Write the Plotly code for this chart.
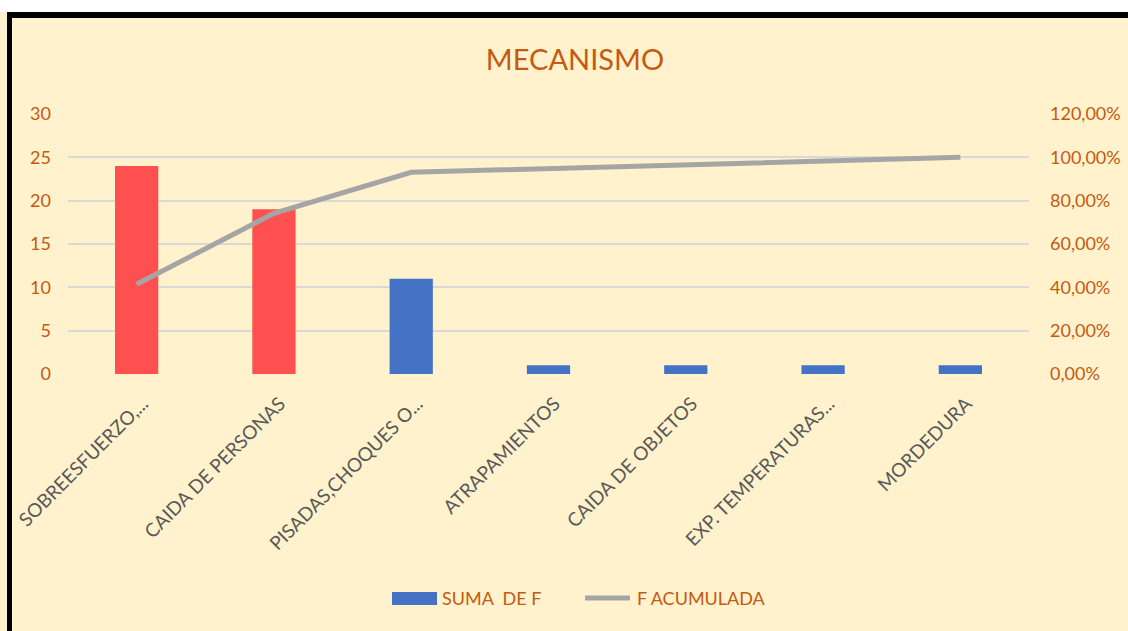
import plotly.graph_objects as go

# ── Data ─────────────────────────────────────────────
categorias = [
    "SOBREESFUERZO,...",
    "CAIDA DE PERSONAS",
    "PISADAS,CHOQUES O...",
    "ATRAPAMIENTOS",
    "CAIDA DE OBJETOS",
    "EXP. TEMPERATURAS...",
    "MORDEDURA",
]
suma_f = [24, 19, 11, 1, 1, 1, 1]
f_acumulada = [0.4138, 0.7414, 0.9310, 0.9483, 0.9655, 0.9828, 1.0]
n_destacadas = 2  # first bars drawn in red

y_ticks = [0, 5, 10, 15, 20, 25, 30]
y2_ticks = [0, 0.2, 0.4, 0.6, 0.8, 1.0, 1.2]
y2_labels = ["0,00%", "20,00%", "40,00%", "60,00%", "80,00%", "100,00%", "120,00%"]

# ── Colors ───────────────────────────────────────────
BG = "#FFF2CC"
ORANGE = "#C55A11"
RED = "#FF5050"
BLUE = "#4472C4"
GRAY = "#A5A5A5"
GRID = "#D9D9D9"
LABEL = "#595959"
FONT = "Lato"

W, H = 1128, 631


def px_x(v):
    return v / W


def px_y(v):
    return 1 - v / H


fig = go.Figure()

# red highlighted bars
fig.add_trace(go.Bar(
    x=categorias[:n_destacadas], y=suma_f[:n_destacadas],
    marker_color=RED, marker_line_width=0, width=0.315,
    showlegend=False,
))
# remaining bars
fig.add_trace(go.Bar(
    x=categorias[n_destacadas:], y=suma_f[n_destacadas:],
    marker_color=BLUE, marker_line_width=0, width=0.315,
    showlegend=False,
))
# cumulative line
fig.add_trace(go.Scatter(
    x=categorias, y=f_acumulada, yaxis="y2",
    mode="lines", line=dict(color=GRAY, width=5),
    showlegend=False,
))

# ── Frame: white strip on top, black border top/left ──
shapes = [
    dict(type="rect", xref="paper", yref="paper", x0=0, x1=1, y0=px_y(12), y1=1,
         fillcolor="white", line_width=0, layer="below"),
    dict(type="rect", xref="paper", yref="paper", x0=px_x(7), x1=1, y0=px_y(18), y1=px_y(12),
         fillcolor="black", line_width=0, layer="below"),
    dict(type="rect", xref="paper", yref="paper", x0=px_x(7), x1=px_x(12), y0=0, y1=px_y(12),
         fillcolor="black", line_width=0, layer="below"),
    # legend swatches (Excel style)
    dict(type="rect", xref="paper", yref="paper", x0=px_x(392), x1=px_x(437),
         y0=px_y(605), y1=px_y(592), fillcolor=BLUE, line_width=0),
    dict(type="line", xref="paper", yref="paper", x0=px_x(585), x1=px_x(630),
         y0=px_y(598), y1=px_y(598), line=dict(color=GRAY, width=5)),
]

annotations = [
    dict(text="SUMA  DE F", xref="paper", yref="paper", x=px_x(440), y=px_y(598),
         xanchor="left", yanchor="middle", showarrow=False,
         font=dict(family=FONT, color=ORANGE, size=18)),
    dict(text="F ACUMULADA", xref="paper", yref="paper", x=px_x(635), y=px_y(598),
         xanchor="left", yanchor="middle", showarrow=False,
         font=dict(family=FONT, color=ORANGE, size=18)),
]

fig.update_layout(
    width=W, height=H,
    margin=dict(l=0, r=0, t=0, b=0, autoexpand=False),
    paper_bgcolor=BG,
    plot_bgcolor=BG,
    barmode="overlay",
    showlegend=False,
    shapes=shapes,
    annotations=annotations,
    font=dict(family=FONT, color=ORANGE, size=18),
    title=dict(
        text="MECANISMO",
        font=dict(family=FONT, color=ORANGE, size=29),
        x=575 / W, xanchor="center",
        y=px_y(60), yanchor="middle",
    ),
    xaxis=dict(
        domain=[px_x(68), px_x(1029)],
        automargin=False,
        tickangle=-45,
        tickfont=dict(color=LABEL, size=19, family=FONT),
        showgrid=False, zeroline=False, showline=False,
        ticks="",
        ticklabelstandoff=14,
        ticklabelshift=6,
        categoryorder="array", categoryarray=categorias,
        range=[-0.5, len(categorias) - 0.5],
    ),
    yaxis=dict(
        domain=[px_y(374), px_y(114)],
        automargin=False,
        range=[0, 30],
        tickvals=y_ticks,
        tickfont=dict(color=ORANGE, size=18, family=FONT),
        showgrid=True, gridcolor=GRID, gridwidth=1.5,
        zeroline=False, showline=False,
        ticklabelstandoff=16,
    ),
    yaxis2=dict(
        overlaying="y", side="right",
        automargin=False,
        range=[0, 1.2],
        tickvals=y2_ticks, ticktext=y2_labels,
        tickfont=dict(color=ORANGE, size=18, family=FONT),
        showgrid=False, zeroline=False, showline=False,
        ticklabelstandoff=20,
    ),
)

fig.write_html(
    "out.html",
    config={"displayModeBar": False},
    post_script="document.body.style.margin='0px';",
)
